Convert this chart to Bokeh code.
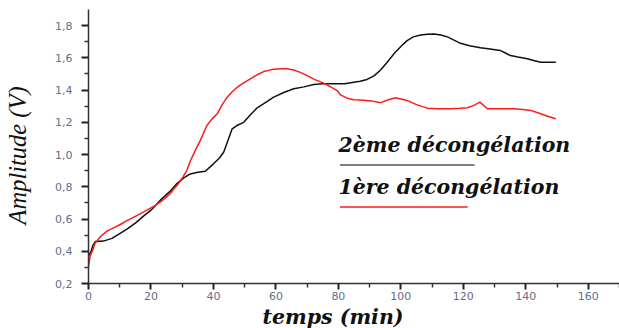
from bokeh.plotting import figure
from bokeh.models import Range1d, FixedTicker, Title
from bokeh.embed import file_html
from bokeh.resources import INLINE
from bokeh.core.properties import value

# Second thaw (black curve)
time_2 = [0, 0.8, 1.5, 2.2, 4.8, 7.5, 10, 12.3, 15, 17.6, 20, 23, 26, 28.3, 30.5,
          32.6, 35, 37.4, 40.1, 42, 43.3, 44.5, 46, 47.5, 49.7, 52, 54, 56.5, 59.3,
          62.5, 65.7, 69, 72.1, 75, 78.5, 82, 84.9, 87, 89.2, 91.5, 93.5, 95.5, 97.8,
          100, 102, 104, 106.3, 108.5, 110.6, 112.8, 114.9, 117, 119.1, 122, 125.5,
          128.5, 131.9, 133.5, 135.1, 137.5, 140.5, 142.5, 144.8, 147, 149.6]
amp_2 = [0.37, 0.40, 0.44, 0.46, 0.463, 0.48, 0.51, 0.537, 0.575, 0.618, 0.655, 0.717,
         0.77, 0.82, 0.855, 0.88, 0.89, 0.896, 0.944, 0.98, 1.016, 1.08, 1.16, 1.18,
         1.20, 1.25, 1.29, 1.32, 1.356, 1.385, 1.408, 1.42, 1.435, 1.44, 1.439, 1.44,
         1.449, 1.455, 1.466, 1.49, 1.525, 1.57, 1.625, 1.67, 1.707, 1.73, 1.742,
         1.747, 1.748, 1.742, 1.73, 1.71, 1.69, 1.675, 1.662, 1.655, 1.645, 1.63,
         1.614, 1.605, 1.594, 1.583, 1.573, 1.572, 1.573]

# First thaw (red curve)
time_1 = [0, 0.5, 1.2, 2.1, 3.8, 5.9, 8, 10.2, 12.3, 14.4, 16.5, 18.7, 21, 23, 24.5,
          26.2, 27.5, 28.8, 30.2, 31.5, 32.6, 34.2, 35.8, 37.9, 39.5, 41.2, 42.8, 44.4,
          46, 47.6, 49.7, 51.8, 54, 56.1, 58.7, 61.4, 63.5, 65.7, 67.8, 70, 72.5, 75.3,
          77.5, 79.6, 80.7, 82.8, 85, 88.1, 90.5, 93.5, 96, 98.3, 100, 102, 105, 108.5,
          112, 115.9, 119, 121.3, 123.4, 125.3, 127.7, 132, 136.2, 139, 141.6, 144.8,
          147, 149.6]
amp_1 = [0.305, 0.366, 0.40, 0.449, 0.49, 0.525, 0.545, 0.566, 0.59, 0.61, 0.632, 0.655,
         0.68, 0.706, 0.73, 0.758, 0.79, 0.82, 0.86, 0.902, 0.96, 1.026, 1.088, 1.18,
         1.22, 1.253, 1.31, 1.356, 1.39, 1.418, 1.445, 1.47, 1.495, 1.515, 1.527,
         1.532, 1.532, 1.525, 1.51, 1.49, 1.465, 1.443, 1.42, 1.397, 1.37, 1.35, 1.34,
         1.337, 1.333, 1.322, 1.34, 1.352, 1.345, 1.336, 1.31, 1.288, 1.284, 1.284,
         1.287, 1.29, 1.305, 1.325, 1.284, 1.284, 1.284, 1.28, 1.274, 1.253, 1.238,
         1.222]

x_ticks = [0, 20, 40, 60, 80, 100, 120, 140, 160]
x_minor = [10, 30, 50, 70, 90, 110, 130, 150, 170]
y_ticks = [0.2, 0.4, 0.6, 0.8, 1.0, 1.2, 1.4, 1.6, 1.8]
y_minor = [0.3, 0.5, 0.7, 0.9, 1.1, 1.3, 1.5, 1.7]
y_tick_labels = ["0,2", "0,4", "0,6", "0,8", "1,0", "1,2", "1,4", "1,6", "1,8"]

series_labels = ["2ème décongélation", "1ère décongélation"]
series_colors = ["#111111", "#ff1a1a"]
legend_line_colors = ["#555555", "#ff1a1a"]

p = figure(width=619, height=328, output_backend="svg", toolbar_location=None,
           x_range=Range1d(0, 170), y_range=Range1d(0.2, 1.9),
           min_border_left=88, min_border_right=0, min_border_top=9,
           min_border_bottom=44)
p.outline_line_color = None
p.grid.visible = False
p.background_fill_color = "white"
p.border_fill_color = "white"

p.line(time_2, amp_2, line_color=series_colors[0], line_width=1.5)
p.line(time_1, amp_1, line_color=series_colors[1], line_width=1.5)

# legend: text with a short line underneath each entry
legend_x0 = 80
legend_x1 = [123.6, 121.4]
legend_text_y = [1.058, 0.80]
legend_line_y = [0.935, 0.675]
for i in range(2):
    p.text(x=[legend_x0], y=[legend_text_y[i]], text=[series_labels[i]],
           text_font=value("DejaVu Serif"), text_font_style="bold italic",
           text_font_size="20.5px", text_color="#111111", text_baseline="alphabetic")
    p.line([legend_x0 + 0.5, legend_x1[i]], [legend_line_y[i]] * 2,
           line_color=legend_line_colors[i], line_width=1.5)

# axes
p.xaxis.ticker = FixedTicker(ticks=x_ticks, minor_ticks=x_minor)
p.yaxis.ticker = FixedTicker(ticks=y_ticks, minor_ticks=y_minor)
p.yaxis.major_label_overrides = dict(zip(y_ticks, y_tick_labels))

for ax in (p.xaxis[0], p.yaxis[0]):
    ax.axis_line_color = "#333333"
    ax.axis_line_width = 1.5
    ax.major_tick_line_color = "#222222"
    ax.major_tick_line_width = 2
    ax.major_tick_in = 0
    ax.major_tick_out = 6
    ax.minor_tick_line_color = "#333333"
    ax.minor_tick_line_width = 1.5
    ax.minor_tick_in = 0
    ax.minor_tick_out = 4
    ax.major_label_text_font = "DejaVu Sans"
    ax.major_label_text_font_size = "11px"
    ax.major_label_text_color = "#6a6a8a"
p.yaxis.major_tick_out = 7

p.xaxis.major_label_standoff = 2
p.yaxis.major_label_standoff = 9

# blank spacer label that widens the y-axis panel
p.yaxis.axis_label = " "
p.yaxis.axis_label_text_font_size = "1px"
p.yaxis.axis_label_standoff = 16

# axis titles, placed off-centre along their axes
p.add_layout(Title(text="temps (min)", align="left", offset=174, standoff=0,
                   text_font="DejaVu Serif", text_font_style="bold italic",
                   text_font_size="20.5px", text_color="#111111"), "below")
p.add_layout(Title(text="Amplitude (V)", align="left", offset=59, standoff=2,
                   text_font="Liberation Serif", text_font_style="italic",
                   text_font_size="24.5px", text_color="#111111"), "left")

open("out.html", "w").write(file_html(p, INLINE))
